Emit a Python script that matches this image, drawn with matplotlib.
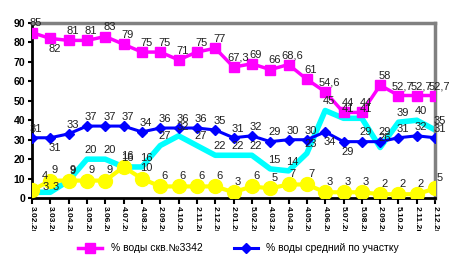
import matplotlib.pyplot as plt
from matplotlib.transforms import Bbox

plt.rcParams['font.family'] = ['Liberation Sans', 'DejaVu Sans']

# dates (only the first characters are visible on the chart)
dates = ['3.02.2г', '3.03.2г', '3.04.2г', '3.05.2г', '3.06.2г', '4.07.2г',
         '4.08.2г', '2.09.2г', '4.10.2г', '2.11.2г', '2.12.2г', '2.01.2г',
         '5.02.2г', '4.03.2г', '4.04.2г', '4.05.2г', '4.06.2г', '5.07.2г',
         '5.08.2г', '2.09.2г', '5.10.2г', '2.11.2г', '2.12.2г']

well_3342 = [85, 82, 81, 81, 83, 79, 75, 75, 71, 75, 77, 67.3, 69, 66, 68.6,
             61, 54.6, 44, 44, 58, 52.7, 52.7, 52.7]
area_avg = [31, 31, 33, 37, 37, 37, 34, 36, 36, 36, 35, 31, 32, 29, 30,
            30, 34, 29, 29, 29, 31, 32, 31]
cyan_vals = [3, 3, 9, 20, 20, 16, 16, 27, 32, 27, 22, 22, 22, 15, 14,
             23, 45, 41, 41, 26, 39, 40, 35]
yellow_vals = [4, 9, 9, 9, 9, 16, 10, 6, 6, 6, 6, 3, 6, 5, 7,
               7, 3, 3, 3, 2, 2, 2, 5]

x = list(range(len(dates)))

fig = plt.figure(figsize=(4.5, 2.6), dpi=100)
ax = fig.add_axes([0.071, 0.238, 0.896, 0.674])

ax.plot(x, cyan_vals, color='#00FFFF', lw=4, zorder=2, solid_capstyle='round')
ax.plot(x, yellow_vals, color='#FFFF00', lw=3, marker='o', ms=10, zorder=3)
ax.plot(x, area_avg, color='#0000FF', lw=2.2, marker='D', ms=5.5, zorder=4,
        label='% воды средний по участку')
ax.plot(x, well_3342, color='#FF00FF', lw=2.5, marker='s', ms=7.5, zorder=5,
        label='% воды скв.№3342')

def fmt(v):
    return ('%g' % v).replace('.', ',')

def put_labels(vals, below=(), special=None, dx=3, dy=3):
    special = special or {}
    for xi, v in zip(x, vals):
        if xi in special:
            off, va = special[xi], 'center'
        elif xi in below:
            off, va = (dx, -4), 'top'
        else:
            off, va = (dx, dy), 'bottom'
        ax.annotate(fmt(v), (xi, v), xytext=off, textcoords='offset points',
                    ha='center', va=va, fontsize=8, color='#202020', zorder=6,
                    annotation_clip=False)

put_labels(well_3342, below=(1,))
put_labels(area_avg, below=(1, 16, 17))
put_labels(cyan_vals, special={0: (10, 4), 1: (4, 4)})
put_labels(yellow_vals, special={0: (9, 10)}, dy=4)

ax.set_xlim(0, 22)
ax.set_ylim(0, 90)
ax.set_yticks(range(0, 91, 10))
ax.set_xticks(x)
ax.set_xticklabels(dates, rotation=-90, fontsize=6, fontweight='bold')
for lab in ax.get_yticklabels():
    lab.set_fontweight('bold')
ax.tick_params(axis='y', labelsize=7.5, length=3, width=1.5, pad=2)
ax.tick_params(axis='x', length=4, width=1.5, pad=2)

# tick labels are cut off above the legend
clip = Bbox.from_extents(0, 29, 450, 62)
for lab in ax.get_xticklabels():
    lab.set_clip_box(clip)
    lab.set_clip_on(True)

ax.spines['left'].set_linewidth(2)
ax.spines['bottom'].set_linewidth(2)
ax.spines['top'].set_color('#808080')
ax.spines['top'].set_linewidth(2.5)
ax.spines['right'].set_color('#808080')
ax.spines['right'].set_linewidth(2.5)

handles, labels = ax.get_legend_handles_labels()
fig.legend(handles[::-1], labels[::-1], loc='lower center', ncol=2,
           bbox_to_anchor=(0.53, -0.01), frameon=False, fontsize=7.5,
           handlelength=2.3, columnspacing=3)

fig.savefig('out.png', dpi=100)
